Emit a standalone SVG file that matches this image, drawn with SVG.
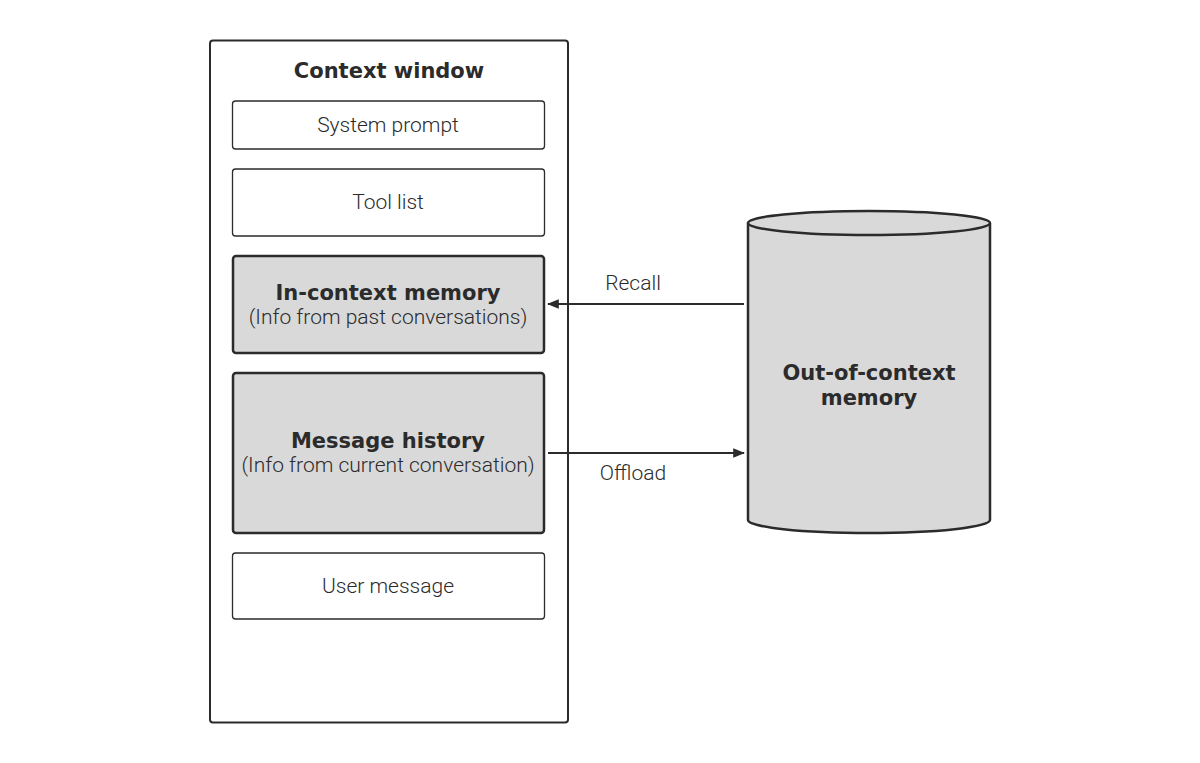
<svg xmlns="http://www.w3.org/2000/svg" width="1200" height="763" viewBox="0 0 1200 763">
<style>
.b{stroke:#2b2b2b;fill:#fff}
.thin{stroke-width:1.3}
.thick{stroke-width:2.5;fill:#d9d9d9}
.t{font-family:Roboto,"Liberation Sans",sans-serif;font-weight:300;font-size:21px;fill:#2b2b2b;text-anchor:middle}
.h{font-family:"DejaVu Sans","Liberation Sans",sans-serif;font-weight:bold;font-size:21px;fill:#2b2b2b;text-anchor:middle}
.c{stroke:#2b2b2b;stroke-width:2;fill:none}
</style>
<defs>
<marker id="ah" viewBox="0 0 10 10" refX="9" refY="5" markerWidth="6" markerHeight="6" orient="auto"><path d="M0,1 L10,5 L0,9 Z" fill="#2b2b2b"/></marker>
</defs>
<rect width="1200" height="763" fill="#fff"/>
<g id="context-window">
<rect class="b" x="210" y="40.5" width="358" height="682" rx="3" stroke-width="2"/>
<text class="h" x="389" y="78">Context window</text>
</g>
<g id="system-prompt">
<rect class="b thin" x="232.5" y="101" width="312" height="48" rx="3"/>
<text class="t" x="388" y="132">System prompt</text>
</g>
<g id="tool-list">
<rect class="b thin" x="232.5" y="169" width="312" height="67" rx="3"/>
<text class="t" x="388" y="209">Tool list</text>
</g>
<g id="in-context-memory">
<rect class="b thick" x="233" y="256" width="311" height="97" rx="3"/>
<text class="h" x="388" y="300">In-context memory</text>
<text class="t" x="388" y="324">(Info from past conversations)</text>
</g>
<g id="message-history">
<rect class="b thick" x="233" y="373" width="311" height="160" rx="3"/>
<text class="h" x="388" y="448">Message history</text>
<text class="t" x="388" y="472">(Info from current conversation)</text>
</g>
<g id="user-message">
<rect class="b thin" x="232.5" y="553" width="312" height="66" rx="3"/>
<text class="t" x="388" y="593">User message</text>
</g>
<g id="out-of-context-memory">
<path d="M748,223 L748,520 A121,13 0 0 0 990,520 L990,223" fill="#d9d9d9" stroke="#2b2b2b" stroke-width="2.5"/>
<ellipse cx="869" cy="223" rx="121" ry="12" fill="#d9d9d9" stroke="#2b2b2b" stroke-width="2.5"/>
<text class="h" x="869" y="380">Out-of-context</text>
<text class="h" x="869" y="405">memory</text>
</g>
<g id="connectors">
<line class="c" x1="744" y1="304" x2="548" y2="304" marker-end="url(#ah)"/>
<text class="t" x="633" y="290">Recall</text>
<line class="c" x1="548" y1="453" x2="744" y2="453" marker-end="url(#ah)"/>
<text class="t" x="633" y="480">Offload</text>
</g>
</svg>
